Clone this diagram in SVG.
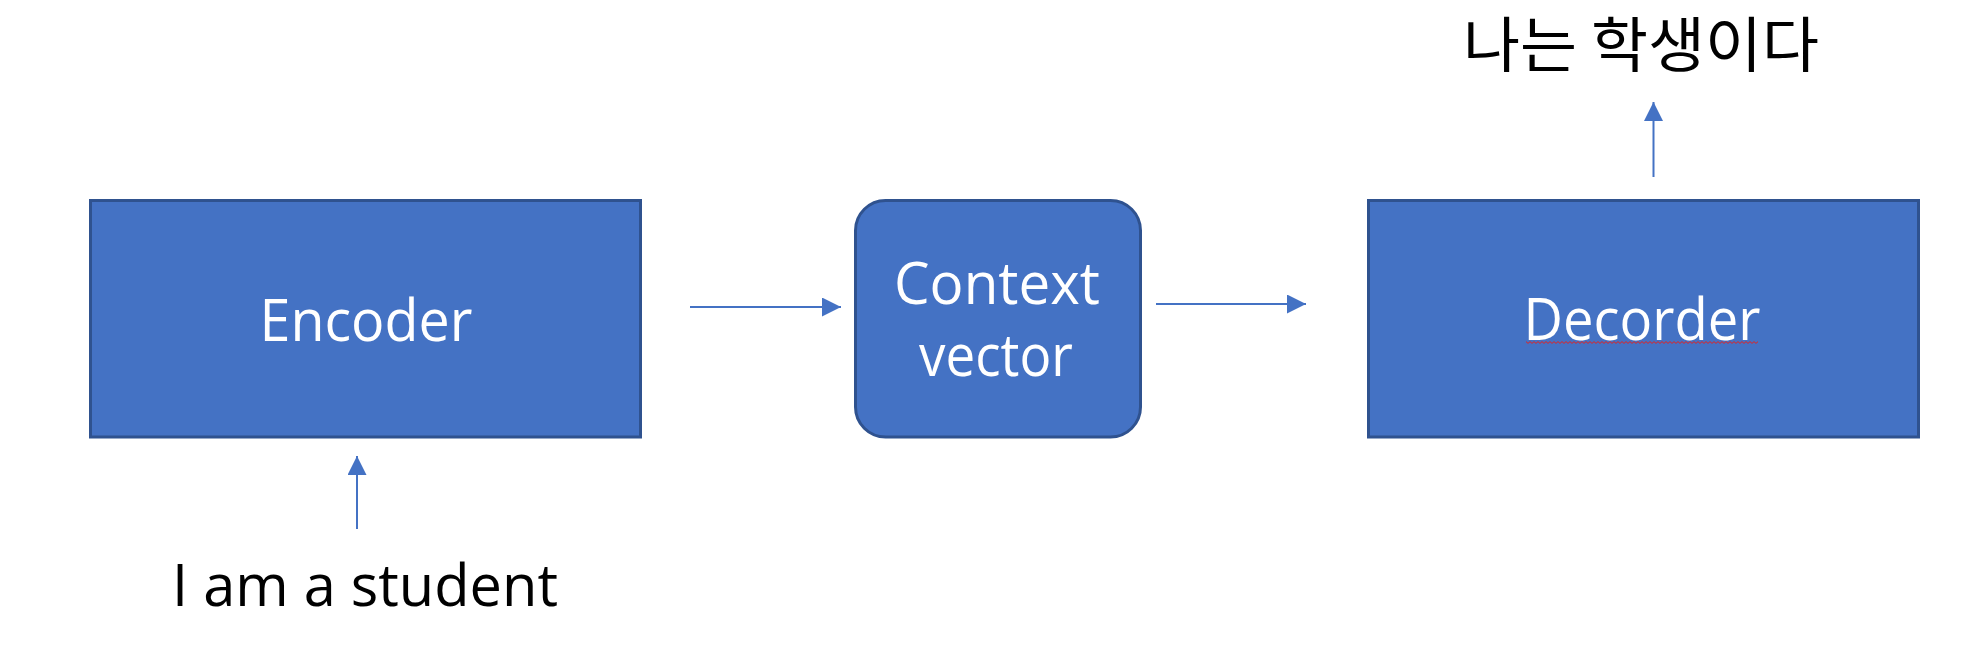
<svg xmlns="http://www.w3.org/2000/svg" width="1984" height="648" viewBox="0 0 1984 648">
  <style>
    .box { fill: #4472C4; stroke: #2F528F; stroke-width: 3; }
    .lbl { font-family: "Open Sans", "Noto Sans", "Liberation Sans", sans-serif; font-size: 58px; fill: #FFFFFF; text-anchor: middle; }
    .io { font-family: "Open Sans", "Noto Sans", "Liberation Sans", sans-serif; font-size: 58px; fill: #000000; text-anchor: middle; }
    .ko { font-family: "Noto Sans CJK KR", "Noto Sans", sans-serif; font-size: 60px; fill: #000000; text-anchor: middle; }
    .conn { stroke: #4472C4; stroke-width: 2; fill: none; marker-end: url(#arrow); }
  </style>
  <defs>
    <marker id="arrow" markerUnits="userSpaceOnUse" viewBox="0 0 19 19" markerWidth="19" markerHeight="19" refX="19" refY="9.5" orient="auto">
      <path d="M0,0 L19,9.5 L0,19 Z" fill="#4472C4"/>
    </marker>
    <pattern id="wave" patternUnits="userSpaceOnUse" x="1526" y="341" width="4" height="3">
      <path d="M0,0.6 L2,2.4 L4,0.6" fill="none" stroke="#E02020" stroke-width="1"/>
    </pattern>
  </defs>
  <rect width="1984" height="648" fill="#FFFFFF"/>

  <g id="encoder">
    <rect class="box" x="90.5" y="200.5" width="550" height="236.5"/>
    <text class="lbl" x="366" y="341" textLength="213" lengthAdjust="spacingAndGlyphs">Encoder</text>
  </g>

  <g id="context-vector">
    <rect class="box" x="855.5" y="200.5" width="285" height="236.5" rx="30" ry="30"/>
    <text class="lbl" x="997" y="304" textLength="206" lengthAdjust="spacingAndGlyphs">Context</text>
    <text class="lbl" x="996" y="376" textLength="154" lengthAdjust="spacingAndGlyphs">vector</text>
  </g>

  <g id="decorder">
    <rect class="box" x="1368.5" y="200.5" width="550" height="236.5"/>
    <text class="lbl" x="1642" y="339.5" textLength="237" lengthAdjust="spacingAndGlyphs">Decorder</text>
    <rect x="1526" y="341" width="232" height="3" fill="url(#wave)"/>
  </g>

  <g id="input-text">
    <text class="io" x="365" y="606" textLength="386" lengthAdjust="spacingAndGlyphs">I am a student</text>
  </g>

  <g id="output-text">
    <text class="ko" x="1641" y="67" textLength="356" lengthAdjust="spacingAndGlyphs">나는 학생이다</text>
  </g>

  <g id="connectors">
    <line class="conn" x1="357" y1="529" x2="357" y2="456"/>
    <line class="conn" x1="690" y1="307" x2="841" y2="307"/>
    <line class="conn" x1="1156" y1="304" x2="1306" y2="304"/>
    <line class="conn" x1="1653.5" y1="177" x2="1653.5" y2="102"/>
  </g>
</svg>
